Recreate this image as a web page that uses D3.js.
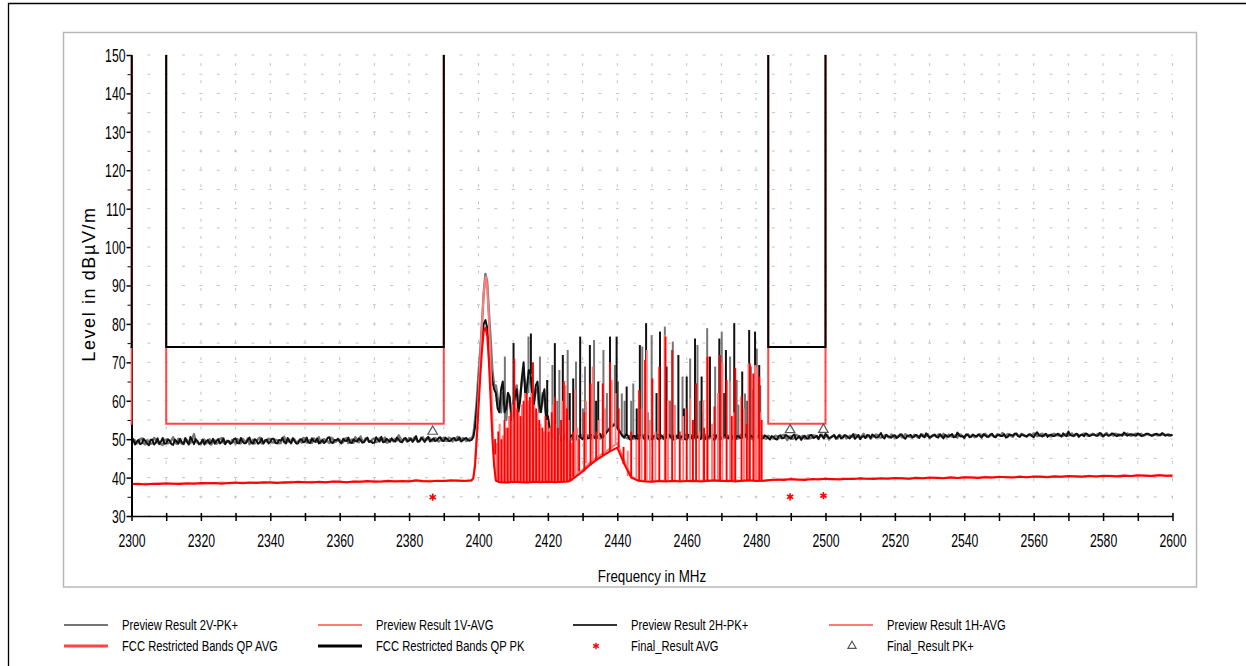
<!DOCTYPE html>
<html>
<head>
<meta charset="utf-8">
<script src="https://cdn.jsdelivr.net/npm/d3@7"></script>
<style>
  html, body { margin: 0; padding: 0; background: #fff; }
  svg { display: block; }
  text { font-family: "Liberation Sans", Arial, sans-serif; fill: #000; }
</style>
</head>
<body>
<svg id="chart" width="1246" height="666"></svg>
<script>
// ---------- axis ticks ----------
const freqLabels = [2300, 2320, 2340, 2360, 2380, 2400, 2420, 2440, 2460, 2480, 2500, 2520, 2540, 2560, 2580, 2600];
const freqMinor = [2310, 2330, 2350, 2370, 2390, 2410, 2430, 2450, 2470, 2490, 2510, 2530, 2550, 2570, 2590];
const levelLabels = [30, 40, 50, 60, 70, 80, 90, 100, 110, 120, 130, 140, 150];
const levelMinor = [35, 45, 55, 65, 75, 85, 95, 105, 115, 125, 135, 145];

// ---------- sweep grids ----------
const pkStart = 2300, pkStep = 1;       // peak detector: bins on whole MHz …
const pkHalfStart = 2300.5;             // … and the in-between bins on half MHz
const avgStart = 2300, avgStep = 2;     // average detector: 2 MHz bins

// Preview Result 2H-PK+, whole-MHz bins 2300 … 2600
const pk2H = [
  49.2, 48.6, 49.8, 48.9, 49.5, 48.4, 49.9, 49.1, 48.7, 50.3,
  48.9, 49.6, 48.5, 49.4, 50.1, 48.8, 49.3, 50.6, 48.7, 49.5,
  49.0, 48.6, 49.8, 49.2, 48.8, 50.0, 49.3, 48.7, 49.6, 49.1,
  50.2, 48.9, 49.4, 49.0, 50.4, 48.8, 49.7, 49.2, 48.9, 49.9,
  49.3, 50.1, 48.9, 49.6, 49.2, 50.3, 49.0, 49.5, 48.9, 50.0,
  49.4, 49.1, 50.2, 49.3, 48.9, 49.8, 49.4, 50.5, 49.0, 49.7,
  49.3, 50.1, 49.5, 49.1, 50.0, 49.4, 49.8, 49.2, 50.4, 49.5,
  49.1, 49.9, 50.6, 49.3, 49.7, 50.2, 49.4, 49.9, 49.2, 50.3,
  49.6, 49.3, 50.8, 49.5, 49.9, 50.1, 49.4, 50.2, 49.7, 50.5,
  49.5, 50.0, 49.6, 50.3, 49.8, 49.4, 50.1, 49.7,
  49.8, 53, 64, 76, 81, 74, 65,
  62, 57, 65, 58, 61, 56, 63, 60, 70, 64, 67, 59, 65, 57, 63, 56,
  51.2, 50.1, 50.8, 49.6, 50.9, 50.2, 51.1, 49.8, 50.7, 50.0,
  51.0, 50.3, 50.9, 50.1, 51.4, 50.6, 51.9, 52.8, 53.6, 52.9,
  51.5, 50.4, 51.0, 49.9, 50.8, 50.1, 51.2, 49.8, 50.6, 50.2,
  51.0, 49.9, 50.7, 50.3, 51.1, 49.8, 50.9, 50.2, 50.8, 49.9,
  51.2, 50.4, 50.7, 50.0, 51.0, 50.3, 50.9, 49.8, 50.6, 50.1,
  51.1, 50.2, 50.8, 49.9, 50.7, 50.4, 51.2, 50.0, 50.6, 50.3,
  51.0, 50.2, 50.7, 49.9,
  50.6, 49.9, 51.0, 50.3, 50.8, 50.1, 51.2, 50.4, 49.8, 50.9,
  50.2, 51.1, 50.5, 50.0, 50.8, 51.4, 50.3, 50.7, 50.1, 51.0,
  50.4, 50.9, 50.2, 51.3, 50.6, 50.0, 50.8, 51.1, 50.3, 50.9,
  50.5, 51.6, 50.2, 50.8, 50.4, 51.0, 50.6, 51.2, 50.1, 50.9,
  50.5, 51.1, 50.3, 50.8, 51.5, 50.4, 50.9, 50.6, 51.3, 50.2,
  50.8, 51.0, 50.5, 51.7, 50.7, 50.3, 51.1, 50.6, 50.9, 51.2,
  50.4, 51.0, 50.7, 51.4, 50.5, 51.1, 50.8, 50.4, 51.2, 50.9,
  51.5, 50.6, 51.0, 50.7, 51.3, 50.5, 51.8, 50.9, 51.1, 50.6,
  51.2, 50.8, 51.4, 50.7, 51.0, 52.0, 50.9, 51.3, 50.6, 51.1,
  51.5, 50.8, 51.2, 50.9, 51.6, 50.7, 51.3, 51.0, 51.4, 50.8,
  51.1, 51.7, 50.9, 51.3, 51.0, 51.5, 50.8, 51.2, 51.4, 50.9,
  51.3, 51.1, 51.6, 50.9, 51.2, 51.1
];
// Preview Result 2H-PK+, half-MHz bins 2300.5 … 2599.5
const pk2HHalf = [
  50.0, 49.3, 48.7, 50.1, 48.9, 49.8, 48.6, 50.2, 49.4, 48.8,
  50.0, 48.7, 49.9, 48.8, 49.2, 50.3, 48.6, 49.7, 50.0, 48.7,
  49.9, 49.4, 48.8, 50.1, 49.6, 48.9, 50.2, 49.4, 48.8, 50.0,
  49.0, 50.3, 48.9, 49.8, 49.1, 50.0, 48.8, 50.2, 49.6, 48.9,
  50.1, 49.0, 49.8, 50.3, 48.9, 49.4, 50.2, 48.9, 49.9, 49.2,
  50.4, 49.0, 49.5, 50.2, 49.3, 49.0, 50.3, 49.2, 49.8, 50.1,
  48.9, 49.6, 50.4, 49.0, 49.5, 50.2, 49.1, 50.0, 49.3, 49.0,
  50.5, 49.4, 49.2, 50.1, 49.3, 49.6, 50.4, 49.3, 50.1, 49.5,
  50.2, 49.9, 49.4, 50.4, 49.3, 50.6, 49.8, 49.5, 50.3, 49.6,
  50.4, 49.5, 50.2, 49.6, 50.5, 49.7, 50.3, 49.6,
  50.5, 58, 70, 80, 79, 69, 63,
  58, 63, 57, 62, 55, 61, 57, 66, 61, 68, 62, 64, 59, 61, 55, 53,
  50.3, 51.0, 49.8, 50.9, 50.2, 50.7, 49.9, 51.0, 50.4, 50.9,
  50.2, 51.1, 50.3, 50.9, 50.4, 51.2, 52.4, 53.3, 53.9, 52.2,
  50.8, 51.2, 50.0, 50.8, 49.9, 50.9, 50.4, 51.0, 49.9, 50.8,
  50.2, 51.1, 50.0, 50.9, 50.4, 51.0, 50.3, 50.7, 50.0, 51.1,
  50.2, 50.9, 50.4, 51.1, 50.0, 50.8, 50.2, 51.0, 49.9, 50.8,
  50.4, 51.0, 50.1, 50.8, 50.3, 51.1, 50.0, 50.9, 50.4, 50.8,
  50.1, 51.0, 50.3, 50.8,
  50.1, 50.8, 50.2, 51.1, 50.4, 50.9, 49.9, 50.8, 50.5, 50.2,
  51.0, 50.3, 50.9, 51.2, 50.2, 50.8, 50.4, 51.1, 50.6, 50.2,
  51.0, 50.5, 50.8, 50.1, 51.1, 50.6, 50.3, 50.9, 51.2, 50.4,
  51.0, 50.5, 51.1, 50.6, 50.9, 50.3, 51.2, 50.5, 50.8, 51.1,
  50.6, 50.9, 51.3, 50.5, 50.9, 50.7, 51.2, 50.4, 50.8, 51.1,
  50.6, 51.3, 50.6, 51.0, 50.8, 51.2, 50.5, 51.1, 50.7, 50.9,
  51.3, 50.6, 51.1, 50.7, 51.0, 50.8, 51.3, 50.6, 51.1, 51.4,
  50.8, 51.2, 50.9, 51.1, 50.8, 51.3, 51.0, 50.7, 51.4, 51.0,
  50.8, 51.2, 50.9, 51.5, 50.8, 51.1, 50.9, 51.4, 51.1, 50.8,
  51.3, 51.0, 51.2, 50.9, 51.4, 51.1, 50.9, 51.5, 51.0, 51.2,
  50.9, 51.4, 51.1, 51.2, 50.9, 51.3, 51.0, 51.4, 51.1, 51.0,
  51.4, 51.0, 51.3, 51.1, 51.0
];

// Preview Result 2V-PK+, whole-MHz bins 2300 … 2600
const pk2V = [
  48.8, 49.7, 49.1, 50.2, 48.6, 49.4, 48.9, 50.0, 49.3, 48.5,
  49.9, 49.2, 50.5, 48.8, 49.3, 48.7, 49.8, 49.0, 51.3, 49.2,
  48.7, 49.9, 49.3, 48.6, 49.7, 49.1, 50.3, 48.9, 49.2, 49.8,
  48.8, 49.5, 50.1, 49.2, 48.7, 49.8, 49.3, 50.4, 48.9, 49.4,
  50.0, 49.2, 49.7, 49.0, 50.6, 49.3, 48.9, 49.9, 49.4, 49.1,
  50.2, 49.5, 49.0, 49.8, 50.5, 49.2, 49.6, 49.0, 50.1, 49.4,
  49.8, 49.2, 50.3, 49.6, 49.1, 49.9, 50.7, 49.3, 49.8, 49.5,
  50.2, 49.4, 49.9, 50.4, 49.2, 49.8, 50.1, 51.0, 49.5, 49.9,
  50.3, 49.6, 50.0, 49.4, 50.5, 49.8, 50.2, 49.6, 50.0, 49.7,
  50.4, 49.5, 50.1, 49.8, 50.6, 49.6, 50.0, 49.9,
  50.2, 55, 67, 80, 93, 83, 68,
  64, 59, 62, 55, 60, 58, 64, 61, 67, 62, 65, 60, 63, 58, 60, 54,
  50.6, 50.9, 49.8, 51.0, 50.4, 50.8, 49.9, 50.7, 50.3, 51.2,
  50.1, 50.8, 50.4, 51.0, 50.2, 51.2, 52.0, 53.2, 54.0, 53.0,
  51.8, 50.6, 50.2, 50.9, 50.3, 51.0, 50.5, 50.9, 50.0, 50.8,
  50.4, 51.1, 50.2, 50.9, 50.5, 51.0, 50.1, 50.8, 50.3, 51.2,
  50.0, 50.7, 50.4, 51.0, 50.2, 50.8, 50.5, 51.1, 49.9, 50.7,
  50.4, 50.9, 50.1, 51.0, 50.3, 50.8, 50.6, 51.1, 50.0, 50.9,
  50.4, 50.8, 50.1, 50.6,
  50.2, 50.8, 50.4, 51.1, 49.8, 50.7, 50.3, 50.9, 50.5, 50.1,
  51.0, 50.4, 50.9, 50.2, 51.2, 50.6, 49.9, 50.8, 50.4, 51.1,
  50.7, 50.2, 50.9, 50.5, 51.0, 50.3, 51.4, 50.6, 50.1, 50.8,
  51.1, 50.4, 50.9, 50.6, 51.2, 50.3, 50.8, 50.5, 51.3, 50.7,
  50.4, 51.0, 50.6, 51.2, 50.8, 50.3, 51.1, 50.7, 50.9, 51.4,
  50.5, 51.0, 50.8, 50.4, 51.2, 50.6, 51.3, 50.9, 50.5, 51.1,
  50.8, 51.4, 50.6, 51.0, 50.7, 51.2, 51.6, 50.8, 51.1, 50.6,
  51.3, 50.9, 51.2, 50.7, 51.0, 51.5, 50.8, 51.3, 50.9, 51.1,
  50.7, 51.4, 51.0, 50.8, 51.2, 50.9, 51.5, 51.0, 50.8, 51.3,
  51.1, 50.9, 51.4, 51.0, 51.2, 50.8, 51.6, 51.1, 50.9, 51.3,
  51.0, 51.2, 51.5, 50.9, 51.3, 51.1, 51.4, 51.0, 51.2, 50.9,
  51.3, 51.0, 51.2, 51.1, 50.9, 51.2
];
// Preview Result 2V-PK+, half-MHz bins 2300.5 … 2599.5
const pk2VHalf = [
  49.6, 48.9, 50.0, 49.0, 49.7, 48.8, 50.3, 49.1, 48.7, 49.8,
  48.9, 49.7, 49.3, 50.1, 48.8, 49.6, 48.9, 50.0, 49.3, 48.8,
  49.6, 48.9, 50.0, 49.3, 48.8, 50.1, 49.1, 49.6, 48.9, 49.4,
  50.0, 48.9, 49.6, 50.2, 49.1, 48.9, 50.1, 48.9, 49.7, 50.1,
  49.1, 49.8, 48.9, 50.3, 49.2, 49.9, 50.2, 49.0, 49.7, 50.3,
  49.1, 49.8, 50.2, 49.3, 49.0, 50.0, 49.4, 50.4, 49.2, 49.8,
  49.3, 50.1, 49.0, 49.9, 50.5, 49.2, 49.6, 50.2, 49.3, 50.0,
  49.2, 50.3, 49.5, 49.1, 50.0, 49.4, 49.6, 50.2, 49.9, 49.3,
  49.8, 50.4, 49.3, 50.1, 49.6, 50.4, 49.5, 50.3, 49.4, 50.1,
  49.6, 50.4, 49.4, 50.2, 49.7, 50.3, 49.5, 50.2,
  51, 60, 73, 88, 91, 76, 64,
  61, 57, 60, 62, 57, 63, 59, 65, 64, 66, 61, 63, 57, 62, 56, 52,
  51.1, 50.2, 50.7, 50.1, 51.0, 50.3, 50.9, 50.0, 50.8, 50.5,
  51.0, 50.2, 50.9, 50.4, 51.1, 51.6, 52.6, 53.6, 53.7, 52.4,
  51.0, 50.4, 50.8, 50.1, 50.9, 50.2, 51.1, 50.3, 50.7, 50.1,
  50.9, 50.4, 51.0, 50.2, 50.8, 50.4, 51.1, 50.0, 50.9, 50.4,
  51.0, 50.1, 50.8, 50.3, 51.2, 50.2, 50.9, 50.4, 50.7, 50.2,
  51.0, 50.3, 50.8, 50.1, 51.1, 50.4, 50.7, 50.2, 50.9, 50.3,
  51.0, 50.2, 50.9, 50.3,
  50.9, 50.2, 51.0, 50.4, 50.7, 50.1, 51.1, 50.3, 50.9, 50.6,
  50.2, 51.0, 50.5, 50.8, 50.3, 51.1, 50.5, 50.9, 50.2, 50.8,
  51.0, 50.4, 50.7, 51.2, 50.5, 50.9, 50.4, 51.0, 50.6, 51.2,
  50.5, 50.8, 51.1, 50.4, 50.9, 50.7, 51.2, 50.5, 51.0, 50.6,
  51.1, 50.5, 50.9, 50.6, 51.3, 50.7, 50.9, 51.2, 50.6, 50.9,
  51.2, 50.6, 51.0, 51.3, 50.7, 51.0, 50.8, 51.2, 50.7, 51.3,
  50.9, 51.0, 51.2, 50.8, 51.3, 50.9, 51.0, 51.3, 50.8, 51.2,
  50.9, 51.4, 50.8, 51.2, 51.0, 51.3, 50.9, 51.4, 51.1, 50.9,
  51.3, 51.0, 51.2, 50.9, 51.4, 51.1, 50.8, 51.3, 51.0, 51.4,
  50.9, 51.2, 51.1, 51.4, 50.9, 51.3, 51.0, 51.2, 51.4, 50.9,
  51.3, 51.1, 51.2, 51.0, 51.4, 51.1, 50.9, 51.3, 51.1, 51.2,
  51.0, 51.3, 51.1, 51.2, 51.0
];

// Preview Result 1H-AVG, 2 MHz bins 2300 … 2600
const avg1H = [
  38.3, 38.4, 38.2, 38.4, 38.3, 38.5, 38.4, 38.3, 38.5, 38.4,
  38.6, 38.5, 38.6, 38.4, 38.6, 38.7, 38.5, 38.7, 38.6, 38.8,
  38.7, 38.6, 38.8, 38.7, 38.9, 38.8, 38.7, 38.9, 38.8, 39.0,
  38.9, 38.8, 39.0, 38.9, 39.1, 38.9, 39.0, 39.2, 39.0, 39.1,
  39.0, 39.3, 39.1, 39.0, 39.2, 39.1, 39.3, 39.2, 39.1, 39.3,
  58, 79, 50, 38.8, 38.7, 38.9, 38.8, 38.7, 38.9, 38.8,
  38.9, 38.8, 38.9, 39.0, 40.2, 41.6, 43.2, 44.6, 45.8, 46.9,
  47.8, 43.5, 40.0, 39.2, 39.0, 38.9, 39.1, 39.0, 39.2, 39.0,
  39.1, 39.2, 39.0, 39.1, 39.3, 39.1, 39.2, 39.0, 39.2, 39.3,
  39.1, 39.2, 39.4,
  39.5, 39.4, 39.6, 39.5, 39.4, 39.6, 39.5, 39.7, 39.6, 39.5,
  39.7, 39.6, 39.8, 39.7, 39.6, 39.8, 39.7, 39.9, 39.8, 39.7,
  39.9, 39.8, 40.0, 39.9, 39.8, 40.0, 39.9, 40.1, 40.0, 39.9,
  40.1, 40.0, 40.2, 40.1, 40.0, 40.2, 40.1, 40.3, 40.2, 40.1,
  40.3, 40.2, 40.4, 40.3, 40.2, 40.4, 40.3, 40.5, 40.4, 40.3,
  40.5, 40.4, 40.6, 40.5, 40.4, 40.6, 40.5, 40.5
];
const avg1HCarrier = [[2398.5, 39.8], [2399, 43], [2399.5, 50], [2400.5, 66], [2401, 73], [2401.5, 78], [2402.5, 77], [2403, 70], [2403.5, 60], [2404.5, 43], [2405, 39.2]];

// Preview Result 1V-AVG, 2 MHz bins 2300 … 2600
const avg1V = [
  38.4, 38.2, 38.4, 38.3, 38.5, 38.3, 38.4, 38.5, 38.3, 38.5,
  38.4, 38.6, 38.5, 38.7, 38.5, 38.6, 38.7, 38.6, 38.8, 38.6,
  38.8, 38.7, 38.6, 38.9, 38.7, 38.8, 38.9, 38.8, 38.7, 38.9,
  39.0, 38.8, 38.9, 39.0, 38.9, 39.1, 39.0, 38.9, 39.1, 39.0,
  39.2, 39.1, 39.0, 39.2, 39.1, 39.2, 39.1, 39.3, 39.2, 39.2,
  62, 92, 55, 38.9, 38.8, 38.8, 38.9, 38.8, 38.8, 38.9,
  38.8, 38.9, 38.8, 39.1, 40.6, 42.0, 43.8, 45.2, 46.4, 47.6,
  49.0, 44.4, 40.4, 39.3, 39.1, 39.0, 39.2, 39.1, 39.0, 39.2,
  39.1, 39.0, 39.2, 39.3, 39.1, 39.2, 39.0, 39.3, 39.1, 39.2,
  39.3, 39.1, 39.3,
  39.4, 39.6, 39.5, 39.4, 39.6, 39.5, 39.7, 39.6, 39.5, 39.7,
  39.6, 39.8, 39.6, 39.7, 39.9, 39.7, 39.8, 39.9, 39.8, 39.7,
  40.0, 39.8, 39.9, 40.0, 39.9, 40.1, 39.9, 40.0, 40.1, 40.0,
  40.2, 40.0, 40.1, 40.2, 40.1, 40.3, 40.1, 40.2, 40.3, 40.2,
  40.4, 40.2, 40.3, 40.4, 40.3, 40.5, 40.3, 40.4, 40.5, 40.4,
  40.6, 40.4, 40.5, 40.6, 40.5, 40.7, 40.5, 40.6
];
const avg1VCarrier = [[2398.5, 40], [2399, 44], [2399.5, 52], [2400.5, 71], [2401, 80], [2401.5, 88], [2402.2, 92.3], [2402.5, 90], [2403, 81], [2403.5, 69], [2404.5, 45], [2405, 39.4]];

// Hopping bursts caught between sweep bins: [MHz, dBµV/m]
const burst2H = [
  [2410.1, 75.0], [2415.1, 77.5], [2419.8, 65.4], [2422.0, 75.0], [2424.3, 71.9], [2426.3, 62.0],
  [2427.3, 65.8], [2429.3, 76.7], [2432.1, 74.5], [2433.9, 60.0], [2434.5, 65.0], [2437.9, 76.7],
  [2439.8, 76.7], [2442.7, 63.7], [2445.6, 58.0], [2446.5, 74.5], [2448.3, 80.2], [2451.3, 62.0],
  [2452.3, 78.0], [2454.2, 68.9], [2457.6, 71.9], [2459.2, 58.0], [2460.0, 66.3], [2462.4, 76.2],
  [2464.3, 66.3], [2466.7, 71.5], [2469.4, 76.2], [2470.7, 62.0], [2471.3, 73.2], [2473.7, 80.2],
  [2476.0, 67.6], [2477.5, 60.0], [2478.0, 78.4], [2479.7, 78.0], [2480.9, 69.3]
];
const burst2V = [
  [2407.6, 71.5], [2414.4, 76.7], [2417.7, 71.5], [2421.3, 69.3], [2422.7, 60.0], [2423.3, 68.0],
  [2425.7, 73.2], [2428.1, 70.2], [2430.1, 58.0], [2430.7, 68.9], [2433.3, 75.8], [2436.0, 73.2],
  [2437.0, 62.0], [2439.3, 69.3], [2440.2, 65.0], [2441.3, 61.9], [2442.1, 60.0], [2444.0, 60.0],
  [2444.6, 64.5], [2447.2, 74.1], [2448.8, 57.0], [2449.9, 77.1], [2453.7, 79.3], [2455.2, 60.0],
  [2456.0, 75.4], [2458.8, 66.3], [2461.0, 71.0], [2463.1, 74.5], [2463.8, 60.0], [2464.7, 57.0],
  [2465.9, 78.9], [2468.2, 68.9], [2470.1, 78.0], [2472.5, 71.5], [2474.4, 65.4], [2474.9, 59.0],
  [2476.8, 61.9], [2478.5, 68.9], [2479.2, 63.0], [2480.2, 73.6], [2481.2, 64.0]
];
const burst1H = [
  [2404.8, 46], [2405.7, 52], [2406.6, 50], [2407.5, 55], [2408.4, 53], [2409.3, 57], [2410.3, 71],
  [2411.2, 58], [2412.1, 56], [2413.0, 60], [2413.9, 62], [2414.8, 61], [2415.7, 70], [2416.6, 58],
  [2417.5, 55], [2418.4, 53], [2419.3, 56], [2420.2, 52], [2421.1, 57], [2422.0, 61], [2422.9, 53],
  [2423.8, 55], [2424.6, 65], [2425.5, 58], [2426.4, 50], [2427.3, 52],
  [2429.0, 50], [2430.5, 57], [2432.3, 64.5], [2433.9, 52], [2435.8, 64.5], [2437.9, 70], [2440.4, 58],
  [2441.8, 48], [2444.0, 52], [2446.3, 62.8], [2448.0, 70.6], [2450.1, 65.8], [2452.1, 68.9],
  [2453.9, 76.7], [2455.8, 73.2], [2458.0, 52], [2460.0, 58], [2461.8, 55], [2462.7, 64.5],
  [2465.0, 53], [2466.0, 71.5], [2468.0, 58.5], [2469.6, 71.9], [2471.5, 65.4], [2473.0, 56],
  [2474.0, 68.5], [2475.8, 61.1], [2477.3, 54], [2478.2, 69.7], [2479.2, 67.1], [2480.9, 66.3], [2481.6, 55]
];
const burst1V = [
  [2405.2, 49], [2406.1, 54], [2407.0, 51], [2407.9, 53], [2408.8, 56], [2409.8, 59], [2410.7, 60],
  [2411.6, 57], [2412.5, 59], [2413.4, 62], [2414.3, 60], [2415.2, 62], [2416.1, 59], [2417.0, 57],
  [2417.9, 54], [2418.8, 52], [2419.7, 55], [2420.6, 53], [2421.5, 59], [2422.4, 54], [2423.3, 51],
  [2424.2, 60], [2425.1, 64], [2426.0, 55], [2426.9, 49], [2427.8, 63],
  [2428.5, 53], [2431.0, 60], [2432.9, 68.9], [2434.6, 55], [2436.5, 58], [2438.4, 65.4], [2439.5, 62],
  [2443.0, 47], [2445.5, 50], [2447.0, 58], [2448.5, 73.2], [2449.4, 55], [2451.0, 52], [2453.7, 77.1],
  [2454.6, 60], [2456.6, 58.9], [2459.0, 56], [2461.0, 60.6], [2463.6, 52], [2464.8, 60], [2465.9, 71.5],
  [2467.3, 54], [2469.0, 62], [2470.3, 70], [2472.5, 65], [2473.6, 57], [2476.5, 58], [2477.8, 69.7],
  [2479.7, 69.3], [2480.2, 68.9], [2481.2, 57]
];

// FCC 15.205 restricted bands and their limits
const restrictedBands = [[2200, 2300], [2310, 2390], [2483.5, 2500]];
const limitQPPK = 74, limitQPAVG = 54;
const limitOpen = 170; // outside restricted bands: off the top of the scale

// Final measurements
const finalAVG = [[2386.8, 34.9], [2489.8, 35.0], [2499.4, 35.3]];
const finalPK = [[2386.8, 52.0], [2489.8, 52.4], [2499.4, 52.5]];

// Legend
const legendNames = [
  "Preview Result 2V-PK+", "Preview Result 1V-AVG", "Preview Result 2H-PK+", "Preview Result 1H-AVG",
  "FCC Restricted Bands QP AVG", "FCC Restricted Bands QP PK", "Final_Result AVG", "Final_Result PK+"
];

// ---------- drawing ----------
const svg = d3.select("#chart");
const x = d3.scaleLinear().domain([2300, 2600]).range([131.5, 1172.5]);
const y = d3.scaleLinear().domain([30, 150]).range([516, 55]);

const colors = {
  pk2V: "#767676", pk2H: "#111111", avg1V: "#ff7a7a", avg1H: "#ff0000",
  limAVG: "#ff4545", limPK: "#000000", finAVG: "#ff0000", finPK: "#555555"
};

// squeeze text horizontally to the narrow face used by the instrument software
function narrow(sel, k) {
  sel.each(function () {
    const w = this.getComputedTextLength();
    d3.select(this).attr("textLength", w * k).attr("lengthAdjust", "spacingAndGlyphs");
  });
}

// page frame
svg.append("path").attr("d", "M8.5,666V3.5H1246").attr("fill", "none").attr("stroke", "#000").attr("stroke-width", 1.3);
svg.append("rect").attr("x", 63.5).attr("y", 32.5).attr("width", 1133).attr("height", 554.5)
  .attr("fill", "none").attr("stroke", "#b8b8b8").attr("stroke-width", 1.5);

const [x0, x1] = x.range(), [yB, yT] = y.range();

svg.append("clipPath").attr("id", "plot").append("rect")
  .attr("x", x0 - 1).attr("y", yT).attr("width", x1 - x0 + 2).attr("height", yB - yT + 1);

// grid
const grid = svg.append("g").attr("stroke", "#c4c4c4").attr("stroke-width", 1);
grid.selectAll("line.h").data(levelLabels.concat(levelMinor)).join("line")
  .attr("x1", x0).attr("x2", x1).attr("y1", d => y(d)).attr("y2", d => y(d))
  .attr("stroke-dasharray", "3,14.35").attr("stroke-dashoffset", 1.5);
grid.selectAll("line.v").data(freqLabels.concat(freqMinor).filter(f => f > 2300)).join("line")
  .attr("x1", d => x(d)).attr("x2", d => x(d)).attr("y1", yT).attr("y2", yB)
  .attr("stroke-dasharray", "3,14.3").attr("stroke-dashoffset", -8);

function series(start, step, levels, extra) {
  const pts = levels.map((v, i) => ({ f: start + i * step, v }));
  extra.forEach(([f, v]) => pts.push({ f, v }));
  return pts.sort((a, b) => a.f - b.f);
}
const pairs = (start, step, levels) => levels.map((v, i) => [start + i * step, v]);
const line = d3.line().x(d => x(d.f)).y(d => y(d.v));
const plot = svg.append("g").attr("clip-path", "url(#plot)");

function drawTrace(levels, start, step, extra, bursts, color, width, burstWidth) {
  const g = plot.append("g");
  g.append("path").datum(series(start, step, levels, extra)).attr("d", line)
    .attr("fill", "none").attr("stroke", color).attr("stroke-width", width).attr("stroke-linejoin", "round");
  g.selectAll("line").data(bursts).join("line")
    .attr("x1", d => x(d[0])).attr("x2", d => x(d[0]))
    .attr("y1", d => y(levels[Math.round((d[0] - start) / step)]))
    .attr("y2", d => y(d[1]))
    .attr("stroke", color).attr("stroke-width", burstWidth);
}
drawTrace(pk2V, pkStart, pkStep, pairs(pkHalfStart, pkStep, pk2VHalf), burst2V, colors.pk2V, 2.4, 2.0);
drawTrace(pk2H, pkStart, pkStep, pairs(pkHalfStart, pkStep, pk2HHalf), burst2H, colors.pk2H, 2.0, 2.0);
drawTrace(avg1V, avgStart, avgStep, avg1VCarrier, burst1V, colors.avg1V, 2.0, 1.9);
drawTrace(avg1H, avgStart, avgStep, avg1HCarrier, burst1H, colors.avg1H, 2.0, 1.9);

// axes
const yAxis = svg.append("g").attr("transform", `translate(${x0},0)`)
  .call(d3.axisLeft(y).tickValues(levelLabels).tickSize(5).tickSizeOuter(0).tickPadding(1));
svg.append("g").attr("transform", `translate(${x0},0)`)
  .call(d3.axisLeft(y).tickValues(levelMinor).tickSize(4).tickSizeOuter(0).tickFormat(""))
  .select(".domain").remove();
yAxis.select(".domain").attr("stroke-width", 2);
yAxis.selectAll("line").attr("stroke-width", 1.5);
yAxis.selectAll("text").attr("font-size", 18).attr("font-family", null).attr("dy", "0.36em");

const xAxis = svg.append("g").attr("transform", `translate(0,${yB})`)
  .call(d3.axisBottom(x).tickValues(freqLabels).tickFormat(d3.format("d")).tickSize(5).tickSizeOuter(0));
xAxis.selectAll(".tick line").attr("y1", -3).attr("stroke-width", 1.5);
xAxis.select(".domain").attr("stroke-width", 1.5);
xAxis.selectAll("text").attr("font-size", 18).attr("font-family", null).attr("y", 30.5).attr("dy", null);
const xMinor = svg.append("g").attr("transform", `translate(0,${yB})`)
  .call(d3.axisBottom(x).tickValues(freqMinor).tickSize(5).tickFormat(""));
xMinor.select(".domain").remove();
xMinor.selectAll(".tick line").attr("y1", -3).attr("stroke-width", 1.5);
narrow(svg.selectAll(".tick text"), 0.68);

// limit lines
function limitPath(level) {
  const pts = [];
  restrictedBands.forEach(([a, b]) => pts.push([a, limitOpen], [a, level], [b, level], [b, limitOpen]));
  return pts;
}
const limLine = d3.line().x(d => x(d[0])).y(d => y(d[1]));
const lim = svg.append("g").attr("clip-path", "url(#plot)");
lim.append("path").attr("d", limLine(limitPath(limitQPAVG))).attr("fill", "none")
  .attr("stroke", colors.limAVG).attr("stroke-width", 2);
lim.append("path").attr("d", limLine(limitPath(limitQPPK))).attr("fill", "none")
  .attr("stroke", colors.limPK).attr("stroke-width", 2);

// final results
svg.append("g").selectAll("path").data(finalAVG).join("path")
  .attr("transform", d => `translate(${x(d[0])},${y(d[1])})`)
  .attr("d", d3.symbol(d3.symbolAsterisk, 36))
  .attr("fill", "none").attr("stroke", colors.finAVG).attr("stroke-width", 1.6);
svg.append("g").selectAll("path").data(finalPK).join("path")
  .attr("transform", d => `translate(${x(d[0])},${y(d[1])})`)
  .attr("d", d3.symbol(d3.symbolTriangle, 40))
  .attr("fill", "none").attr("stroke", colors.finPK).attr("stroke-width", 1.2);

// axis titles
svg.append("text").attr("transform", "translate(95,284) rotate(-90)")
  .attr("text-anchor", "middle").attr("font-size", 18).attr("letter-spacing", 1.6)
  .text("Level in dBµV/m");
const xTitle = svg.append("text").attr("x", 652).attr("y", 582).attr("text-anchor", "middle")
  .attr("font-size", 16.5).text("Frequency in MHz");
narrow(xTitle, 0.81);

// legend
const legendStyle = [
  { color: colors.pk2V, w: 2, kind: "line" }, { color: colors.avg1V, w: 2, kind: "line" },
  { color: "#333", w: 2, kind: "line" }, { color: colors.avg1V, w: 2, kind: "line" },
  { color: colors.limAVG, w: 3, kind: "line" }, { color: "#000", w: 3, kind: "line" },
  { color: colors.finAVG, kind: "avg" }, { color: colors.finPK, kind: "pk" }
];
const colX = [64, 318, 573, 829], rowY = [625, 646];
const leg = svg.append("g").selectAll("g").data(legendNames).join("g")
  .attr("transform", (d, i) => `translate(${colX[i % 4]},${rowY[Math.floor(i / 4)]})`);
leg.each(function (d, i) {
  const g = d3.select(this), s = legendStyle[i];
  if (s.kind === "line") {
    g.append("line").attr("x1", 0).attr("x2", 44).attr("stroke", s.color).attr("stroke-width", s.w);
  } else if (s.kind === "avg") {
    g.append("path").attr("transform", "translate(23,0)").attr("d", d3.symbol(d3.symbolAsterisk, 30))
      .attr("fill", "none").attr("stroke", s.color).attr("stroke-width", 1.4);
  } else {
    g.append("path").attr("transform", "translate(23,0)").attr("d", d3.symbol(d3.symbolTriangle, 30))
      .attr("fill", "none").attr("stroke", s.color).attr("stroke-width", 1.1);
  }
  const t = g.append("text").attr("x", 58).attr("y", 5).attr("font-size", 14).text(d);
  narrow(t, 0.8);
});
</script>
</body>
</html>
